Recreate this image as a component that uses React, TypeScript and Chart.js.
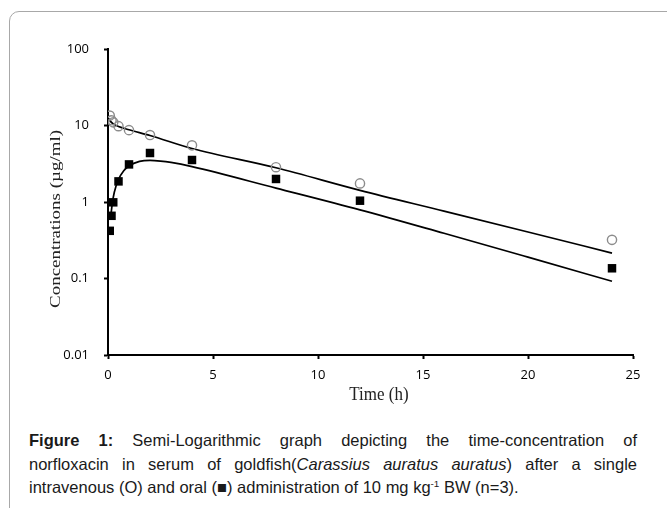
import React, { useEffect, useRef } from "react";
import { Chart, registerables } from "chart.js";
Chart.register(...registerables);

// Observed data (time in h, concentration in µg/ml)
const ivTimes = [0.083, 0.167, 0.25, 0.5, 1, 2, 4, 8, 12, 24];
const ivConc = [13.5, 11.7, 11.0, 9.8, 8.7, 7.5, 5.5, 2.85, 1.75, 0.32];
const oralTimes = [0.083, 0.167, 0.25, 0.5, 1, 2, 4, 8, 12, 24];
const oralConc = [0.42, 0.66, 0.99, 1.86, 3.1, 4.37, 3.54, 2.0, 1.04, 0.136];

// Fitted curves
const ivFitTimes = [0, 0.1, 0.25, 0.5, 1, 2, 4, 8, 12, 16, 20, 24];
const ivFitConc = [12.7, 11.5, 10.5, 9.7, 8.8, 7.4, 5.0, 2.8, 1.42, 0.76, 0.405, 0.215];
const oralFitTimes = [0.13, 0.2, 0.3, 0.5, 0.75, 1, 1.5, 2, 2.5, 3, 4, 8, 12, 16, 20, 24];
const oralFitConc = [0.64, 0.94, 1.34, 1.97, 2.56, 2.96, 3.39, 3.5, 3.43, 3.29, 2.9, 1.52, 0.79, 0.39, 0.19, 0.092];

const yTicks = [0.01, 0.1, 1, 10, 100];
const xTicks = [0, 5, 10, 15, 20, 25];

const yTitle = "Concentrations (µg/ml)";
const xTitle = "Time (h)";

const toXY = (xs: number[], ys: number[]) => xs.map((x, i) => ({ x, y: ys[i] }));

const titlePlugin = {
  id: "customTitles",
  afterDraw(chart: any) {
    const ctx = chart.ctx as CanvasRenderingContext2D;
    ctx.save();
    ctx.fillStyle = "#222";
    ctx.font = '14px "Liberation Serif", "Times New Roman", serif';
    ctx.textAlign = "center";
    ctx.textBaseline = "middle";
    const w = ctx.measureText(yTitle).width;
    ctx.translate(56, 219);
    ctx.rotate(-Math.PI / 2);
    ctx.scale(178 / w, 1);
    ctx.fillText(yTitle, 0, 0);
    ctx.restore();

    ctx.save();
    ctx.fillStyle = "#222";
    ctx.font = '17px "Liberation Serif", "Times New Roman", serif';
    ctx.textAlign = "center";
    ctx.textBaseline = "middle";
    ctx.translate(379, 395);
    ctx.scale(1, 1.15);
    ctx.fillText(xTitle, 0, 0);
    ctx.restore();
  },
};

export default function App() {
  const ref = useRef<HTMLCanvasElement | null>(null);
  useEffect(() => {
    if (!ref.current) return;
    const chart = new Chart(ref.current, {
      type: "scatter",
      data: {
        datasets: [
          {
            label: "IV",
            data: toXY(ivTimes, ivConc),
            pointStyle: "circle",
            pointRadius: 4.6,
            pointBorderColor: "#8c8c8c",
            pointBackgroundColor: "rgba(255,255,255,0)",
            pointBorderWidth: 1.4,
            showLine: false,
            order: 0,
          } as any,
          {
            label: "Oral",
            data: toXY(oralTimes, oralConc),
            pointStyle: "rect",
            pointRadius: 6,
            pointBorderColor: "#000",
            pointBackgroundColor: "#000",
            pointBorderWidth: 0,
            showLine: false,
            order: 0,
          } as any,
          {
            label: "IV fit",
            data: toXY(ivFitTimes, ivFitConc),
            showLine: true,
            borderColor: "#000",
            borderWidth: 1.7,
            pointRadius: 0,
            cubicInterpolationMode: "monotone",
            order: 1,
          } as any,
          {
            label: "Oral fit",
            data: toXY(oralFitTimes, oralFitConc),
            showLine: true,
            borderColor: "#000",
            borderWidth: 1.7,
            pointRadius: 0,
            cubicInterpolationMode: "monotone",
            order: 1,
          } as any,
        ],
      },
      options: {
        animation: false,
        responsive: false,
        maintainAspectRatio: false,
        layout: { padding: { left: 40, top: 49, right: 34, bottom: 30 } },
        plugins: { legend: { display: false }, tooltip: { enabled: false }, title: { display: false } },
        scales: {
          x: {
            type: "linear",
            min: 0,
            max: 25,
            afterBuildTicks: (s: any) => {
              s.ticks = xTicks.map((v) => ({ value: v }));
            },
            afterFit: (s: any) => {
              s.height = 30;
            },
            border: { display: true, color: "#000", width: 2 },
            grid: { display: true, drawOnChartArea: false, drawTicks: true, tickLength: 4, tickColor: "#000", tickWidth: 2 },
            ticks: {
              color: "#000",
              padding: 8,
              font: { family: '"Open Sans", sans-serif', size: 13 },
              maxRotation: 0,
              callback: (v: any) => String(v),
            },
          },
          y: {
            type: "logarithmic",
            min: 0.01,
            max: 100,
            afterBuildTicks: (s: any) => {
              s.ticks = yTicks.map((v) => ({ value: v }));
            },
            afterFit: (s: any) => {
              s.width = 68;
            },
            border: { display: true, color: "#000", width: 2 },
            grid: { display: true, drawOnChartArea: false, drawTicks: true, tickLength: 4, tickColor: "#000", tickWidth: 2 },
            ticks: {
              color: "#000",
              padding: 15,
              font: { family: '"Open Sans", sans-serif', size: 13 },
              callback: (v: any) => String(v),
            },
          },
        },
      },
      plugins: [titlePlugin],
    } as any);
    return () => chart.destroy();
  }, []);

  const capStyle: React.CSSProperties = {
    position: "absolute",
    left: 29,
    width: 608,
    font: '16.5px "Liberation Sans", Arial, sans-serif',
    lineHeight: "23.5px",
    color: "#1a1a1a",
    whiteSpace: "nowrap",
  };

  return (
    <div style={{ position: "fixed", left: 0, top: 0, width: 667, height: 508, overflow: "hidden", background: "#fff" }}>
      <div
        style={{
          position: "absolute",
          left: 9,
          top: 11,
          width: 720,
          height: 600,
          border: "1px solid #a8a8a8",
          borderRadius: 10,
          boxSizing: "border-box",
        }}
      />
      <canvas ref={ref} width={667} height={415} style={{ position: "absolute", left: 0, top: 0, width: 667, height: 415 }} />
      <div style={{ ...capStyle, top: 429, textAlign: "justify", textAlignLast: "justify" as any }}>
        <b>Figure 1:</b> Semi-Logarithmic graph depicting the time-concentration of
      </div>
      <div style={{ ...capStyle, top: 452.5, textAlign: "justify", textAlignLast: "justify" as any }}>
        norfloxacin in serum of goldfish(<i>Carassius auratus auratus</i>) after a single
      </div>
      <div style={{ ...capStyle, top: 476, textAlign: "left" }}>
        intravenous (O) and oral (■) administration of 10 mg kg<sup style={{ fontSize: "60%", lineHeight: 0 }}>-1</sup> BW (n=3).
      </div>
    </div>
  );
}
